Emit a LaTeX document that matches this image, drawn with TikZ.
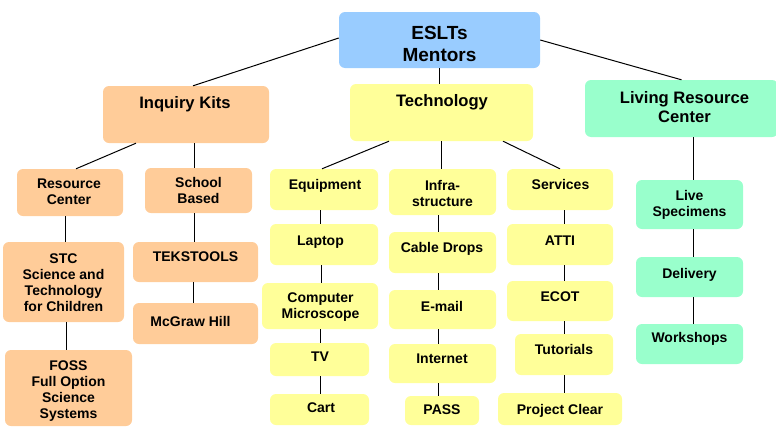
\documentclass[tikz,border=0pt]{standalone}
\usepackage{fontspec}
\setmainfont{Liberation Sans}
\definecolor{rootblue}{HTML}{99CCFF}
\definecolor{peach}{HTML}{FFCC99}
\definecolor{paleyellow}{HTML}{FFFF99}
\definecolor{mint}{HTML}{99FFCC}
\tikzset{
  box/.style={draw=none, rounded corners=6pt, inner sep=0pt},
  kit/.style={box, fill=peach},
  tech/.style={box, fill=paleyellow},
  living/.style={box, fill=mint},
  top/.style={box, fill=rootblue},
  bigtext/.style={font=\fontsize{19}{22}\selectfont\bfseries, align=center, inner sep=0pt},
  midtext/.style={font=\fontsize{16.6}{19.5}\selectfont\bfseries, align=center, inner sep=0pt},
  smalltext/.style={font=\fontsize{14}{16}\selectfont\bfseries, align=center, inner sep=0pt},
  link/.style={draw=black, line width=1pt}
}
\begin{document}
\begin{tikzpicture}[x=1pt, y=-1pt]
\useasboundingbox (0,0) rectangle (776,426);

% ---- boxes ----
\node[top, minimum width=201pt, minimum height=56pt] (root) at (439.5,40) {};
\node[kit, minimum width=166pt, minimum height=57pt] (ik) at (186,114.5) {};
\node[tech, minimum width=183pt, minimum height=57pt] (tc) at (441.5,112.5) {};
\node[living, minimum width=193pt, minimum height=57pt] (lrc) at (681.5,108.5) {};

\node[kit, minimum width=106pt, minimum height=47pt] (rc) at (70,192.5) {};
\node[kit, minimum width=107pt, minimum height=45pt] (sb) at (198.5,190.5) {};
\node[kit, minimum width=121pt, minimum height=80pt] (stc) at (63.5,282) {};
\node[kit, minimum width=127pt, minimum height=76pt] (foss) at (68.5,388) {};
\node[kit, minimum width=125pt, minimum height=40pt] (teks) at (195.5,262) {};
\node[kit, minimum width=125pt, minimum height=41pt] (mcg) at (195.5,323.5) {};

\node[tech, minimum width=108pt, minimum height=41pt] (eq) at (324,189.5) {};
\node[tech, minimum width=108pt, minimum height=41pt] (lap) at (324,244.5) {};
\node[tech, minimum width=116pt, minimum height=46pt] (mic) at (320,306) {};
\node[tech, minimum width=99pt, minimum height=33pt] (tv) at (319.5,359.5) {};
\node[tech, minimum width=99pt, minimum height=31pt] (cart) at (319.5,409.5) {};

\node[tech, minimum width=107pt, minimum height=46pt] (inf) at (442.5,192) {};
\node[tech, minimum width=107pt, minimum height=41pt] (cab) at (442.5,252.5) {};
\node[tech, minimum width=107pt, minimum height=39pt] (em) at (442.5,309.5) {};
\node[tech, minimum width=107pt, minimum height=39pt] (int) at (442.5,363.5) {};
\node[tech, minimum width=74pt, minimum height=29pt] (pass) at (442,410.5) {};

\node[tech, minimum width=106pt, minimum height=41pt] (svc) at (560,189.5) {};
\node[tech, minimum width=106pt, minimum height=41pt] (atti) at (560,244.5) {};
\node[tech, minimum width=106pt, minimum height=40pt] (ecot) at (560,301) {};
\node[tech, minimum width=98pt, minimum height=41pt] (tut) at (564,354.5) {};
\node[tech, minimum width=124pt, minimum height=32pt] (pc) at (560,409) {};

\node[living, minimum width=107pt, minimum height=49pt] (live) at (689.5,204.5) {};
\node[living, minimum width=107pt, minimum height=40pt] (del) at (689.5,277) {};
\node[living, minimum width=107pt, minimum height=40pt] (ws) at (689.5,344) {};

% ---- labels ----
\node[bigtext] (root-t) at (439.5,43.5) {ESLTs\\Mentors};
\node[midtext] (ik-t) at (185,104) {Inquiry Kits};
\node[midtext] (tc-t) at (442,102.5) {Technology};
\node[midtext] (lrc-t) at (684.5,107) {Living Resource\\Center};

\node[smalltext] (rc-t) at (69,192) {Resource\\Center};
\node[smalltext] (sb-t) at (198.5,190.5) {School\\Based};
\node[smalltext] (stc-t) at (63.5,283) {STC\\Science and\\Technology\\for Children};
\node[smalltext] (foss-t) at (68.5,391.5) {FOSS\\Full Option\\Science\\Systems};
\node[smalltext] (teks-t) at (195.5,257) {TEKSTOOLS};
\node[smalltext] (mcg-t) at (190.5,321) {McGraw Hill};

\node[smalltext] (eq-t) at (325,185.5) {Equipment};
\node[smalltext] (lap-t) at (320.5,242.5) {Laptop};
\node[smalltext] (mic-t) at (320.5,307.5) {Computer\\Microscope};
\node[smalltext] (tv-t) at (320,357) {TV};
\node[smalltext] (cart-t) at (321,408) {Cart};

\node[smalltext] (inf-t) at (442.5,193.5) {Infra-\\structure};
\node[smalltext] (cab-t) at (442,248.5) {Cable Drops};
\node[smalltext] (em-t) at (442,306) {E-mail};
\node[smalltext] (int-t) at (442,359) {Internet};
\node[smalltext] (pass-t) at (442,410) {PASS};

\node[smalltext] (svc-t) at (560.5,184) {Services};
\node[smalltext] (atti-t) at (560,241) {ATTI};
\node[smalltext] (ecot-t) at (560,297) {ECOT};
\node[smalltext] (tut-t) at (564,349) {Tutorials};
\node[smalltext] (pc-t) at (560,410.5) {Project Clear};

\node[smalltext] (live-t) at (689.5,205) {Live\\Specimens};
\node[smalltext] (del-t) at (689.5,274.5) {Delivery};
\node[smalltext] (ws-t) at (689.5,339) {Workshops};

% ---- connectors ----
\draw[link] ([yshift=2pt]root.west) -- ([xshift=7pt]ik.north);
\draw[link] (root.south) -- (root.south |- tc.north);
\draw[link] (root.east) -- (lrc.north);

\draw[link] ([xshift=-50pt]ik.south) -- ([xshift=6pt]rc.north);
\draw[link] ([xshift=8pt]ik.south) -- ([xshift=8pt]ik.south |- sb.north);

\draw[link] ([xshift=-52.5pt]tc.south) -- ([xshift=-2pt]eq.north);
\draw[link] (tc.south) -- (tc.south |- inf.north);
\draw[link] ([xshift=61.5pt]tc.south) -- (svc.north);

\draw[link] ([xshift=12pt]lrc.south) -- ([xshift=12pt]lrc.south |- live.north);

\draw[link] ([xshift=-5pt]rc.south) -- ([xshift=-5pt]rc.south |- stc.north);
\draw[link] ([xshift=2.5pt]stc.south) -- ([xshift=2.5pt]stc.south |- foss.north);
\draw[link] ([xshift=-4.5pt]sb.south) -- ([xshift=-4.5pt]sb.south |- teks.north);
\draw[link] ([xshift=-2.5pt]teks.south) -- ([xshift=-2.5pt]teks.south |- mcg.north);

\draw[link] ([xshift=-4pt]eq.south) -- ([xshift=-4pt]eq.south |- lap.north);
\draw[link] ([xshift=-3pt]lap.south) -- ([xshift=-3pt]lap.south |- mic.north);
\draw[link] (mic.south) -- (mic.south |- tv.north);
\draw[link] ([xshift=0.5pt]tv.south) -- ([xshift=0.5pt]tv.south |- cart.north);

\draw[link] ([xshift=-4.5pt]inf.south) -- ([xshift=-4.5pt]inf.south |- cab.north);
\draw[link] ([xshift=-4.5pt]cab.south) -- ([xshift=-4.5pt]cab.south |- em.north);
\draw[link] ([xshift=-4.5pt]em.south) -- ([xshift=-4.5pt]em.south |- int.north);
\draw[link] ([xshift=-4.5pt]int.south) -- ([xshift=-4.5pt]int.south |- pass.north);

\draw[link] ([xshift=4pt]svc.south) -- ([xshift=4pt]svc.south |- atti.north);
\draw[link] ([xshift=4pt]atti.south) -- ([xshift=4pt]atti.south |- ecot.north);
\draw[link] ([xshift=4pt]ecot.south) -- ([xshift=4pt]ecot.south |- tut.north);
\draw[link] (tut.south) -- (tut.south |- pc.north);

\draw[link] ([xshift=3.5pt]live.south) -- ([xshift=3.5pt]live.south |- del.north);
\draw[link] ([xshift=3.5pt]del.south) -- ([xshift=3.5pt]del.south |- ws.north);
\end{tikzpicture}
\end{document}
